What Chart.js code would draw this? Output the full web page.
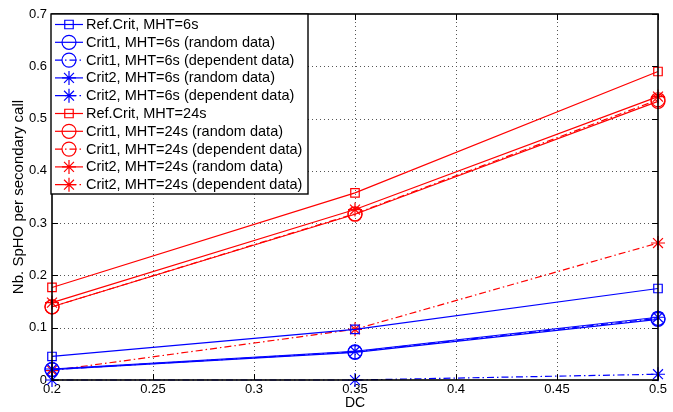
<!DOCTYPE html>
<html>
<head>
<meta charset="utf-8">
<script src="https://cdn.jsdelivr.net/npm/chart.js@4.4.0/dist/chart.umd.min.js"></script>
<style>
html,body{margin:0;padding:0;background:#fff;}
#wrap{position:relative;width:673px;height:412px;}
</style>
</head>
<body>
<div id="wrap"><canvas id="c" width="673" height="412"></canvas></div>
<script>
// ---- data ----
const dcValues = [0.2, 0.35, 0.5];
const refCrit6 = [0.045, 0.097, 0.175];
const crit1Rand6 = [0.020, 0.053, 0.116];
const crit1Dep6 = [0.020, 0.054, 0.118];
const crit2Rand6 = [0.021, 0.055, 0.120];
const crit2Dep6 = [0.000, 0.000, 0.011];
const refCrit24 = [0.177, 0.358, 0.590];
const crit1Rand24 = [0.140, 0.317, 0.533];
const crit1Dep24 = [0.140, 0.318, 0.536];
const crit2Rand24 = [0.148, 0.326, 0.542];
const crit2Dep24 = [0.018, 0.097, 0.262];
const seriesLabels = [
  'Ref.Crit, MHT=6s',
  'Crit1, MHT=6s (random data)',
  'Crit1, MHT=6s (dependent data)',
  'Crit2, MHT=6s (random data)',
  'Crit2, MHT=6s (dependent data)',
  'Ref.Crit, MHT=24s',
  'Crit1, MHT=24s (random data)',
  'Crit1, MHT=24s (dependent data)',
  'Crit2, MHT=24s (random data)',
  'Crit2, MHT=24s (dependent data)'
];
const xTickValues = [0.2, 0.25, 0.3, 0.35, 0.4, 0.45, 0.5];
const yTickValues = [0, 0.1, 0.2, 0.3, 0.4, 0.5, 0.6, 0.7];

const BLUE = '#0000ff', RED = '#ff0000';
const DASHDOT = [7, 3, 1.5, 3];
const seriesValues = [refCrit6, crit1Rand6, crit1Dep6, crit2Rand6, crit2Dep6,
                      refCrit24, crit1Rand24, crit1Dep24, crit2Rand24, crit2Dep24];
const styles = [
  {c: BLUE, p: 'rect', r: 6, d: []},
  {c: BLUE, p: 'circle', r: 7, d: []},
  {c: BLUE, p: 'circle', r: 7, d: DASHDOT},
  {c: BLUE, p: 'star', r: 7, d: []},
  {c: BLUE, p: 'star', r: 7, d: DASHDOT},
  {c: RED, p: 'rect', r: 6, d: []},
  {c: RED, p: 'circle', r: 7, d: []},
  {c: RED, p: 'circle', r: 7, d: DASHDOT},
  {c: RED, p: 'star', r: 7, d: []},
  {c: RED, p: 'star', r: 7, d: DASHDOT}
];

const datasets = seriesValues.map((vals, i) => ({
  label: seriesLabels[i],
  data: vals.map((v, k) => ({x: dcValues[k], y: v})),
  borderColor: styles[i].c,
  backgroundColor: 'rgba(0,0,0,0)',
  borderWidth: 1.2,
  borderDash: styles[i].d,
  pointStyle: styles[i].p,
  pointRadius: styles[i].r,
  pointBorderColor: styles[i].c,
  pointBackgroundColor: 'rgba(0,0,0,0)',
  pointBorderWidth: 1.2,
  tension: 0,
  clip: false
}));

const FONT = '"Liberation Sans", Arial, Helvetica, sans-serif';
const fmt = v => String(parseFloat(Number(v).toFixed(2)));

const framePlugin = {
  id: 'frame',
  beforeDatasetsDraw(chart) {
    const {ctx, chartArea: {left, right, top, bottom}, scales: {x, y}} = chart;
    ctx.save();
    ctx.strokeStyle = '#555';
    ctx.lineWidth = 1;
    ctx.setLineDash([1, 3]);
    xTickValues.forEach(v => {
      const px = Math.round(x.getPixelForValue(v)) + 0.5;
      if (px > left + 2 && px < right - 2) {
        ctx.beginPath(); ctx.moveTo(px, top); ctx.lineTo(px, bottom); ctx.stroke();
      }
    });
    yTickValues.forEach(v => {
      const py = Math.round(y.getPixelForValue(v)) + 0.5;
      if (py > top + 2 && py < bottom - 2) {
        ctx.beginPath(); ctx.moveTo(left, py); ctx.lineTo(right, py); ctx.stroke();
      }
    });
    ctx.restore();
  },
  afterDraw(chart) {
    const {ctx, chartArea: {left, right, top, bottom}, scales: {x, y}} = chart;
    ctx.save();
    ctx.strokeStyle = '#000';
    ctx.lineWidth = 1;
    ctx.setLineDash([]);
    xTickValues.forEach(v => {
      const px = Math.round(x.getPixelForValue(v)) + 0.5;
      ctx.beginPath(); ctx.moveTo(px, bottom); ctx.lineTo(px, bottom - 6); ctx.stroke();
      ctx.beginPath(); ctx.moveTo(px, top); ctx.lineTo(px, top + 6); ctx.stroke();
    });
    yTickValues.forEach(v => {
      const py = Math.round(y.getPixelForValue(v)) + 0.5;
      ctx.beginPath(); ctx.moveTo(left, py); ctx.lineTo(left + 6, py); ctx.stroke();
      ctx.beginPath(); ctx.moveTo(right, py); ctx.lineTo(right - 6, py); ctx.stroke();
    });
    ctx.lineWidth = 1.6;
    ctx.strokeRect(left, top, right - left, bottom - top);

    // legend box
    const lx = 51, ly = 14, lw = 257, lh = 180;
    ctx.fillStyle = '#fff';
    ctx.fillRect(lx, ly, lw, lh);
    ctx.lineWidth = 1.4;
    ctx.strokeStyle = '#000';
    ctx.strokeRect(lx, ly, lw, lh);
    ctx.font = '14.5px ' + FONT;
    ctx.textBaseline = 'middle';
    ctx.textAlign = 'left';
    const rowH = 17.8;
    chart.data.datasets.forEach((ds, i) => {
      const cy = ly + 10.5 + i * rowH;
      ctx.strokeStyle = ds.borderColor;
      ctx.lineWidth = 1.2;
      ctx.setLineDash(ds.borderDash || []);
      ctx.beginPath(); ctx.moveTo(55, cy); ctx.lineTo(83, cy); ctx.stroke();
      ctx.setLineDash([]);
      ctx.fillStyle = 'rgba(0,0,0,0)';
      ctx.strokeStyle = ds.borderColor;
      Chart.helpers.drawPoint(ctx, {
        pointStyle: ds.pointStyle, radius: ds.pointRadius, borderWidth: 1.2, rotation: 0
      }, 69, cy);
      ctx.fillStyle = '#000';
      ctx.fillText(ds.label, 86, cy + 0.5);
    });
    ctx.restore();
  }
};

new Chart(document.getElementById('c'), {
  type: 'line',
  data: {datasets},
  options: {
    responsive: false,
    animation: false,
    devicePixelRatio: 1,
    layout: {padding: {top: 14, right: 15, left: 0, bottom: 0}},
    plugins: {legend: {display: false}, tooltip: {enabled: false}},
    elements: {point: {hoverRadius: 7}},
    scales: {
      x: {
        type: 'linear', min: 0.2, max: 0.5,
        afterFit(s) { s.height = 32; },
        afterBuildTicks(s) { s.ticks = xTickValues.map(v => ({value: v})); },
        grid: {display: false, drawTicks: false},
        border: {display: false},
        ticks: {color: '#000', font: {family: FONT, size: 13}, padding: 2, maxRotation: 0, callback: fmt},
        title: {display: true, text: 'DC', color: '#000', font: {family: FONT, size: 14}, padding: {top: -4, bottom: 0}}
      },
      y: {
        type: 'linear', min: 0, max: 0.7,
        afterFit(s) { s.width = 52; },
        afterBuildTicks(s) { s.ticks = yTickValues.map(v => ({value: v})); },
        grid: {display: false, drawTicks: false},
        border: {display: false},
        ticks: {color: '#000', font: {family: FONT, size: 13}, padding: 5, callback: fmt},
        title: {display: true, text: 'Nb. SpHO per secondary call', color: '#000', font: {family: FONT, size: 15}, padding: {top: 10, bottom: 0}}
      }
    }
  },
  plugins: [framePlugin]
});
</script>
</body>
</html>
